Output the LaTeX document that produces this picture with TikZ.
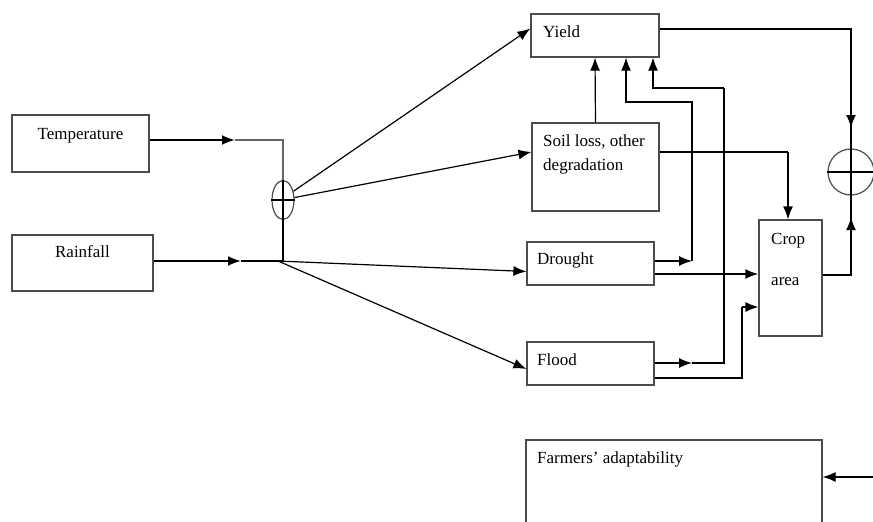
\documentclass[tikz,border=0pt]{standalone}
\usepackage{fontspec}
\setmainfont{Liberation Serif}
\usetikzlibrary{arrows.meta,shapes.geometric,calc}
\begin{document}
\begin{tikzpicture}[x=1pt,y=-1pt,
  box/.style={draw=black!70,line width=1.2pt,minimum width=#1,inner sep=0pt},
  txt/.style={anchor=base west,inner sep=0pt,font=\fontsize{17}{20}\selectfont},
  ln/.style={draw=black,line width=1.2pt},
  arr/.style={ln,-{Latex[length=13pt,width=10pt]}},
  tarr/.style={draw=black,line width=2pt,-{Latex[length=13pt,width=10pt]}}]
\useasboundingbox (0,0) rectangle (873,522);
\clip (0,0) rectangle (873,522);
% boxes
\node[box=137pt,minimum height=57pt] (temp) at (80.5,143.5) {};
\node[box=141pt,minimum height=56pt] (rain) at (82.5,263) {};
\node[box=128pt,minimum height=43pt] (yield) at (595,35.5) {};
\node[box=127pt,minimum height=88pt] (soil) at (595.5,167) {};
\node[box=127pt,minimum height=43pt] (drought) at (590.5,263.5) {};
\node[box=127pt,minimum height=43pt] (flood) at (590.5,363.5) {};
\node[box=63pt,minimum height=116pt] (crop) at (790.5,278) {};
\node[box=296pt,minimum height=100pt] (farm) at (674,490) {};
\node[draw=black!70,line width=1.2pt,ellipse,minimum width=22pt,minimum height=39pt,inner sep=0pt] (oval) at (283,200) {};
\node[draw=black!70,line width=1.2pt,circle,minimum size=46pt,inner sep=0pt] (circ) at (851,172) {};
\draw[ln] (oval.north) -- (oval.south) (oval.west) -- (oval.east);
\draw[ln] (circ.north) -- (circ.south) (circ.west) -- (circ.east);
% texts
\node[txt,anchor=base] (ttemp) at (80.5,139) {Temperature};
\node[txt,anchor=base] (train) at (82.5,257) {Rainfall};
\node[txt] (tyield) at (543,37) {Yield};
\node[txt] (tsoil1) at (543,146) {Soil loss, other};
\node[txt] (tsoil2) at (543,170) {degradation};
\node[txt] (tdrought) at (537,264) {Drought};
\node[txt] (tflood) at (537,365) {Flood};
\node[txt] (tcrop1) at (771,244) {Crop};
\node[txt] (tcrop2) at (771,285) {area};
\node[txt] (tfarm) at (537,463) {Farmers’ adaptability};
% coordinates
\coordinate (tj) at (283,140);
\coordinate (ta) at (235,140);
\coordinate (rj) at (283,261);
\coordinate (rs) at (278,261);
\coordinate (ra) at (241,261);
\coordinate (d1) at (692,261);
\coordinate (y1) at (692,102);
\coordinate (y1b) at (626,102);
\coordinate (fa) at (692,363);
\coordinate (f1) at (724,363);
\coordinate (y2) at (724,88);
\coordinate (y2b) at (653,88);
\coordinate (dc) at (655,274);
\coordinate (fc) at (742,378);
\coordinate (fc2) at (742,307);
\coordinate (sc) at (788,152);
\coordinate (yc) at (851,29);
\coordinate (ya1) at (851,77);
\coordinate (ya2) at (851,128);
\coordinate (cc) at (851,275);
\coordinate (ca1) at (851,258);
\coordinate (ca2) at (851,217);
\coordinate (fe) at (873,477);
% inputs
\draw[tarr] (temp.east|-tj) -- (ta);
\draw[draw=black!60,line width=1.2pt] (ta) -- (tj) -- (oval.north);
\draw[tarr] (rain.east|-rj) -- (ra);
\draw[ln] (ra) -- (rj) -- (oval.south);
\draw[arr] (rs) -- ($(drought.west)+(0,8)$);
\draw[arr] (rs) -- ($(flood.west)+(0,5.5)$);
\draw[arr] (oval.40) -- ($(yield.west)+(0,-7)$);
\draw[arr] (oval.12) -- ($(soil.west)+(0,-15)$);
% to yield
\draw[arr] (soil.north) -- (yield.south);
\draw[arr] (drought.east|-d1) -- (d1);
\draw[arr] (d1) -- (y1) -- (y1b) -- (yield.south-|y1b);
\draw[arr] (flood.east|-f1) -- (fa);
\draw[ln] (fa) -- (f1) -- (y2);
\draw[arr] (y2) -- (y2b) -- (yield.south-|y2b);
% to crop area
\draw[tarr] (drought.east|-dc) -- (crop.west|-dc);
\draw[ln] (flood.east|-fc) -- (fc) -- (fc2);
\draw[arr] (fc2) -- (crop.west|-fc2);
\draw[ln] (soil.east|-sc) -- (sc);
\draw[arr] (sc) -- (crop.north-|sc);
% to circle
\draw[ln] (yield.east|-yc) -- (yc) -- (circ.north);
\draw[tarr] (ya1) -- (ya2);
\draw[ln] (crop.east|-cc) -- (cc) -- (circ.south);
\draw[tarr] (ca1) -- (ca2);
% farmers
\draw[arr] (fe) -- (farm.east|-fe);
\end{tikzpicture}
\end{document}
